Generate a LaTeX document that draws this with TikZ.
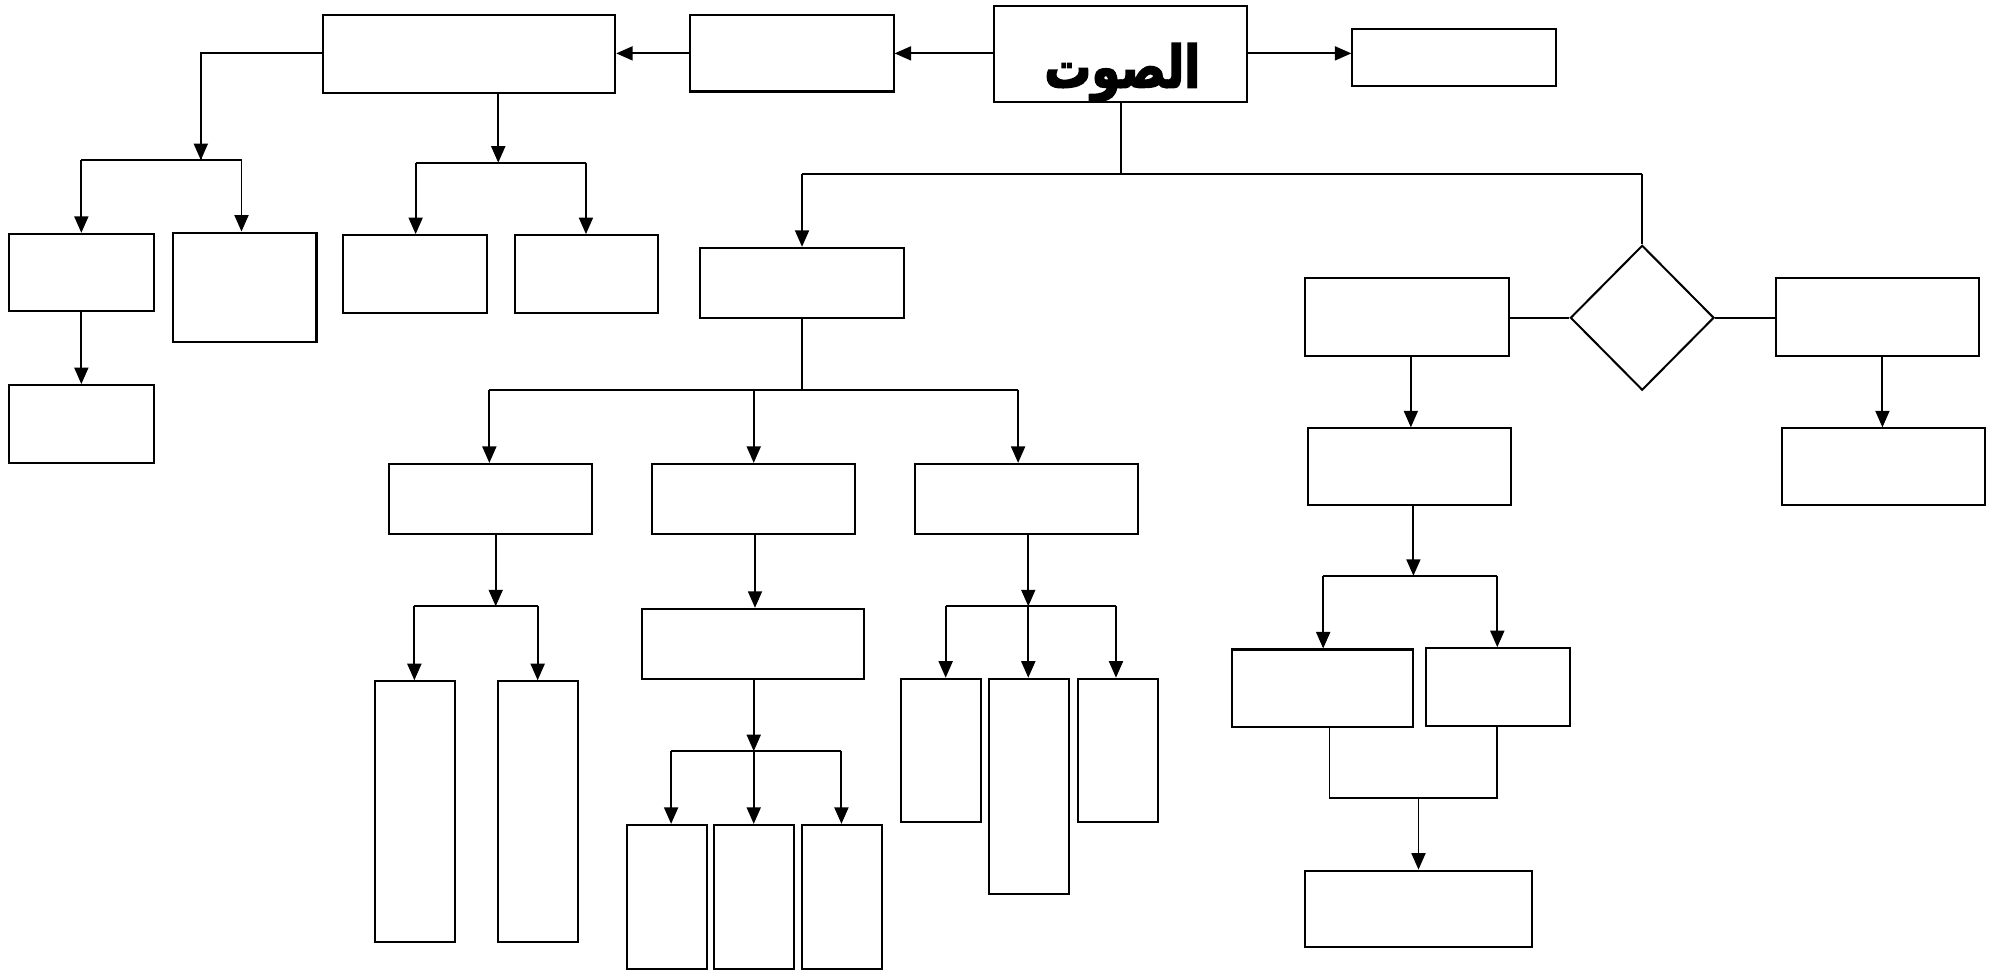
\documentclass[tikz,border=0pt]{standalone}
\usepackage{fontspec}
\usetikzlibrary{arrows.meta,shapes.geometric}
\newfontfamily\arabicfont[Script=Arabic,FakeBold=2.5,FakeStretch=0.8]{DejaVu Sans Bold}
\TeXXeTstate=1
\begin{document}
\begin{tikzpicture}[x=1pt,y=-1pt,
  box/.style={draw,line width=1.6pt,inner sep=0pt,rectangle},
  link/.style={line width=1.5pt},
  arr/.style={line width=1.5pt,-{Triangle[length=13pt,width=11pt]}}]
\useasboundingbox (0,0) rectangle (1568,765);
% top row
\node[box,minimum width=199pt,minimum height=75pt] (main) at (881.5,42.5) {};
\node (title) at (883,57) {\arabicfont\fontsize{46}{50}\selectfont\beginR الصوت\endR};
\node[box,minimum width=160pt,minimum height=45pt] (r1) at (1144,45.5) {};
\node[box,minimum width=160pt,minimum height=60pt] (b1) at (623,42) {};
\node[box,minimum width=230pt,minimum height=61pt] (b2) at (369,42.5) {};
% left top branch
\node[box,minimum width=114pt,minimum height=61pt] (c1) at (64,214.5) {};
\node[box,minimum width=113pt,minimum height=86pt] (c2) at (192.5,226) {};
\node[box,minimum width=114pt,minimum height=61pt] (c3) at (64,333.5) {};
\node[box,minimum width=113pt,minimum height=61pt] (d1) at (326.5,215.5) {};
\node[box,minimum width=113pt,minimum height=61pt] (d2) at (461.5,215.5) {};
% middle tree
\node[box,minimum width=160pt,minimum height=55pt] (e) at (631,222.5) {};
\node[box,minimum width=160pt,minimum height=55pt] (f1) at (386,392.5) {};
\node[box,minimum width=160pt,minimum height=55pt] (f2) at (593,392.5) {};
\node[box,minimum width=175pt,minimum height=55pt] (f3) at (807.5,392.5) {};
\node[box,minimum width=63pt,minimum height=205pt] (g1) at (326.5,638.5) {};
\node[box,minimum width=63pt,minimum height=205pt] (g2) at (423.5,638.5) {};
\node[box,minimum width=175pt,minimum height=55pt] (h) at (592.5,506.5) {};
\node[box,minimum width=63pt,minimum height=113pt] (i1) at (524.5,705.5) {};
\node[box,minimum width=63pt,minimum height=113pt] (i2) at (593.5,705.5) {};
\node[box,minimum width=63pt,minimum height=113pt] (i3) at (662.5,705.5) {};
\node[box,minimum width=63pt,minimum height=113pt] (j1) at (740.5,590.5) {};
\node[box,minimum width=63pt,minimum height=169pt] (j2) at (809.5,618.5) {};
\node[box,minimum width=63pt,minimum height=113pt] (j3) at (879.5,590.5) {};
% right part
\node[draw,line width=1.6pt,diamond,inner sep=0pt,minimum width=113pt,minimum height=114pt] (dia) at (1292,250) {};
\node[box,minimum width=160pt,minimum height=61pt] (k1) at (1107,249.5) {};
\node[box,minimum width=160pt,minimum height=61pt] (k2) at (1477,249.5) {};
\node[box,minimum width=160pt,minimum height=60pt] (l1) at (1109,367) {};
\node[box,minimum width=160pt,minimum height=60pt] (l2) at (1482,367) {};
\node[box,minimum width=143pt,minimum height=61pt] (m1) at (1040.5,541.5) {};
\node[box,minimum width=113pt,minimum height=61pt] (m2) at (1178.5,540.5) {};
\node[box,minimum width=178pt,minimum height=60pt] (n) at (1116,715) {};
% junction coordinates
\coordinate (jb2) at (158,126);
\coordinate (cbl) at (64,126);
\coordinate (cbr) at (190,126);
\coordinate (jd) at (392,128);
\coordinate (dbl) at (327,128);
\coordinate (dbr) at (461,128);
\coordinate (jm) at (882,137);
\coordinate (mbl) at (631,137);
\coordinate (mbr) at (1292,137);
\coordinate (je) at (631,307);
\coordinate (ebl) at (385,307);
\coordinate (ebm) at (593,307);
\coordinate (ebr) at (801,307);
\coordinate (jf1) at (390,477);
\coordinate (f1l) at (326,477);
\coordinate (f1r) at (423,477);
\coordinate (jh) at (593,591);
\coordinate (hl) at (528,591);
\coordinate (hr) at (662,591);
\coordinate (jf3) at (809,477);
\coordinate (f3l) at (744,477);
\coordinate (f3r) at (878,477);
\coordinate (jl1) at (1112,453);
\coordinate (l1l) at (1041,453);
\coordinate (l1r) at (1178,453);
\coordinate (mjl) at (1046,628);
\coordinate (mjr) at (1178,628);
\coordinate (mjc) at (1116,628);
% top arrows
\draw[arr] (main.east |- 0,42) -- (r1.west |- 0,42);
\draw[arr] (main.west |- 0,42) -- (b1.east |- 0,42);
\draw[arr] (b1.west |- 0,42) -- (b2.east |- 0,42);
% b2 left branch
\draw[link] (b2.west |- 0,42) -| (jb2);
\draw[arr] (jb2 |- 0,42) -- (jb2);
\draw[link] (cbl) -- (cbr);
\draw[arr] (cbl) -- (c1.north -| cbl);
\draw[arr] (cbr) -- (c2.north -| cbr);
\draw[arr] (c1.south) -- (c3.north);
% b2 bottom branch
\draw[arr] (b2.south -| jd) -- (jd);
\draw[link] (dbl) -- (dbr);
\draw[arr] (dbl) -- (d1.north -| dbl);
\draw[arr] (dbr) -- (d2.north -| dbr);
% main bottom
\draw[link] (main.south -| jm) -- (jm);
\draw[link] (mbl) -- (mbr);
\draw[arr] (mbl) -- (e.north);
\draw[link] (mbr) -- (dia.north);
% e branch
\draw[link] (e.south) -- (je);
\draw[link] (ebl) -- (ebr);
\draw[arr] (ebl) -- (f1.north -| ebl);
\draw[arr] (ebm) -- (f2.north -| ebm);
\draw[arr] (ebr) -- (f3.north -| ebr);
% f1 branch
\draw[arr] (f1.south -| jf1) -- (jf1);
\draw[link] (f1l) -- (f1r);
\draw[arr] (f1l) -- (g1.north -| f1l);
\draw[arr] (f1r) -- (g2.north -| f1r);
% f2 branch
\draw[arr] (f2.south -| 594,0) -- (h.north -| 594,0);
\draw[arr] (h.south -| jh) -- (jh);
\draw[link] (hl) -- (hr);
\draw[arr] (hl) -- (i1.north -| hl);
\draw[arr] (jh) -- (i2.north -| jh);
\draw[arr] (hr) -- (i3.north -| hr);
% f3 branch
\draw[arr] (f3.south -| jf3) -- (jf3);
\draw[link] (f3l) -- (f3r);
\draw[arr] (f3l) -- (j1.north -| f3l);
\draw[arr] (jf3) -- (j2.north -| jf3);
\draw[arr] (f3r) -- (j3.north -| f3r);
% diamond sides
\draw[link] (k1.east |- dia.west) -- (dia.west);
\draw[link] (dia.east) -- (k2.west |- dia.east);
\draw[arr] (k1.south -| 1110,0) -- (l1.north -| 1110,0);
\draw[arr] (k2.south -| 1481,0) -- (l2.north -| 1481,0);
% l1 branch
\draw[arr] (l1.south -| jl1) -- (jl1);
\draw[link] (l1l) -- (l1r);
\draw[arr] (l1l) -- (m1.north -| l1l);
\draw[arr] (l1r) -- (m2.north -| l1r);
% merge
\draw[link] (m1.south -| mjl) -- (mjl) -- (mjr) -- (m2.south -| mjr);
\draw[arr] (mjc) -- (n.north -| mjc);
\end{tikzpicture}
\end{document}
